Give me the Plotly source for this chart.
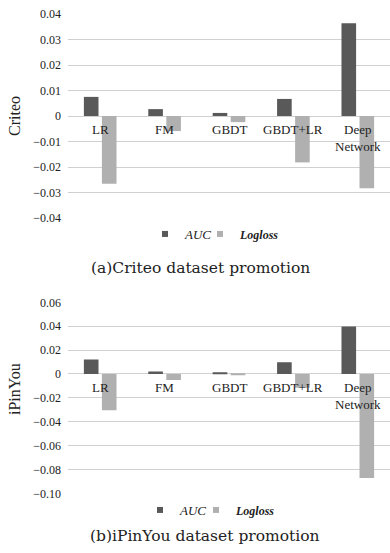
import plotly.graph_objects as go

categories = ["LR", "FM", "GBDT", "GBDT+LR", "Deep Network"]
category_labels = ["LR", "FM", "GBDT", "GBDT+LR", "Deep<br>Network"]

criteo_auc = [0.0075, 0.0027, 0.0012, 0.0067, 0.0364]
criteo_logloss = [-0.0266, -0.0059, -0.0024, -0.0182, -0.0283]

ipinyou_auc = [0.0121, 0.0021, 0.0011, 0.0098, 0.0397]
ipinyou_logloss = [-0.0304, -0.0050, -0.0010, -0.0115, -0.0871]

criteo_ticks = [0.04, 0.03, 0.02, 0.01, 0, -0.01, -0.02, -0.03, -0.04]
criteo_ticktext = ["0.04", "0.03", "0.02", "0.01", "0", "\u22120.01", "\u22120.02", "\u22120.03", "\u22120.04"]
ipinyou_ticks = [0.06, 0.04, 0.02, 0, -0.02, -0.04, -0.06, -0.08, -0.10]
ipinyou_ticktext = ["0.06", "0.04", "0.02", "0", "\u22120.02", "\u22120.04", "\u22120.06", "\u22120.08", "\u22120.10"]

series_names = ["<i>AUC</i>", "<span style='font-size:12px'><b><i>Logloss</i></b></span>"]
captions = ["(a)Criteo dataset promotion", "(b)iPinYou dataset promotion"]
ytitles = ["Criteo", "iPinYou"]

AUC_COLOR = "#595959"
LOG_COLOR = "#b0b0b0"
GRID = "#d0d0d0"
SERIF = "Liberation Serif, serif"
TXT = "#222222"
W, H = 390, 553

fig = go.Figure()

panels = [
    ("x", "y", criteo_auc, criteo_logloss, ("legend", "legend2")),
    ("x2", "y2", ipinyou_auc, ipinyou_logloss, ("legend3", "legend4")),
]
for xa, ya, auc, logl, lgs in panels:
    fig.add_trace(go.Bar(x=categories, y=auc, xaxis=xa, yaxis=ya,
                         marker=dict(color=AUC_COLOR, line=dict(width=0)),
                         showlegend=False, name="AUC"))
    fig.add_trace(go.Bar(x=categories, y=logl, xaxis=xa, yaxis=ya,
                         marker=dict(color=LOG_COLOR, line=dict(width=0)),
                         showlegend=False, name="Logloss"))
    for name, color, lg in zip(series_names, (AUC_COLOR, LOG_COLOR), lgs):
        fig.add_trace(go.Scatter(x=[None], y=[None], xaxis=xa, yaxis=ya, mode="markers",
                                 marker=dict(symbol="square", size=6, color=color),
                                 name=name, legend=lg, showlegend=True))

xdom = [68 / W, 1.0]
top_dom = [1 - 218 / H, 1 - 14 / H]
bot_dom = [1 - 493.3 / H, 1 - 302.3 / H]


def yaxis_style(domain, rng, vals, text, anchor):
    return dict(domain=domain, range=rng, tickvals=vals, ticktext=text, anchor=anchor,
                showgrid=True, gridcolor=GRID, gridwidth=1, zeroline=True,
                zerolinecolor=GRID, zerolinewidth=1, showline=False, ticks="",
                tickfont=dict(family=SERIF, size=12, color=TXT),
                ticklabelstandoff=6, automargin=False, fixedrange=True)


def xaxis_style(anchor):
    return dict(domain=xdom, anchor=anchor, showticklabels=False, showgrid=False,
                zeroline=False, showline=False, ticks="", categoryorder="array",
                categoryarray=categories, range=[-0.5, 4.5], automargin=False,
                fixedrange=True)


def legend_style(x, y):
    return dict(orientation="h", xanchor="left", yanchor="middle", x=x / W, y=1 - y / H,
                font=dict(family=SERIF, size=13, color=TXT), itemwidth=30,
                bgcolor="rgba(0,0,0,0)", borderwidth=0)


fig.update_layout(
    width=W, height=H,
    margin=dict(l=0, r=0, t=0, b=0, pad=0),
    paper_bgcolor="white", plot_bgcolor="white",
    barmode="group", bargap=0.44, bargroupgap=0.19,
    xaxis=xaxis_style("y"),
    xaxis2=xaxis_style("y2"),
    yaxis=yaxis_style(top_dom, [-0.04, 0.04], criteo_ticks, criteo_ticktext, "x"),
    yaxis2=yaxis_style(bot_dom, [-0.10, 0.06], ipinyou_ticks, ipinyou_ticktext, "x2"),
    legend=legend_style(145, 234),
    legend2=legend_style(200, 234),
    legend3=legend_style(140, 510),
    legend4=legend_style(196, 510),
    showlegend=True,
)

annotations = []
for xr, yr in (("x", "y"), ("x2", "y2")):
    for cat, lab in zip(categories, category_labels):
        annotations.append(dict(x=cat, y=0, xref=xr, yref=yr, text=lab, showarrow=False,
                                xanchor="center", yanchor="top", yshift=-4,
                                font=dict(family=SERIF, size=13, color=TXT)))

annotations.append(dict(x=14 / W, y=1 - 116 / H, xref="paper", yref="paper", text=ytitles[0],
                        textangle=-90, showarrow=False, xanchor="center", yanchor="middle",
                        font=dict(family=SERIF, size=16, color=TXT)))
annotations.append(dict(x=14 / W, y=1 - 389 / H, xref="paper", yref="paper", text=ytitles[1],
                        textangle=-90, showarrow=False, xanchor="center", yanchor="middle",
                        font=dict(family=SERIF, size=16, color=TXT)))
annotations.append(dict(x=201 / W, y=1 - 268 / H, xref="paper", yref="paper", text=captions[0],
                        showarrow=False, xanchor="center", yanchor="middle",
                        font=dict(family="DejaVu Serif", size=15.5, color=TXT)))
annotations.append(dict(x=205 / W, y=1 - 536 / H, xref="paper", yref="paper", text=captions[1],
                        showarrow=False, xanchor="center", yanchor="middle",
                        font=dict(family="DejaVu Serif", size=15.5, color=TXT)))
fig.update_layout(annotations=annotations)

fig.write_html("out.html", config={"displayModeBar": False})
